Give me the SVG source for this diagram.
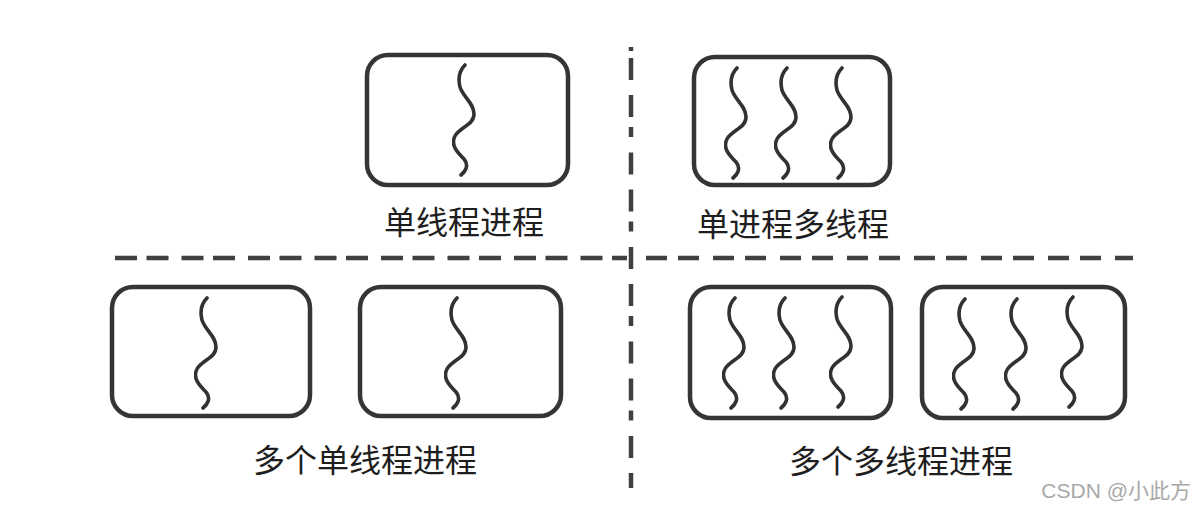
<svg xmlns="http://www.w3.org/2000/svg" width="1196" height="510" viewBox="0 0 1196 510">
  <style>
    .box { fill: #ffffff; stroke: #363636; stroke-width: 4.5; }
    .thread { fill: none; stroke: #303030; stroke-width: 3.6; stroke-linecap: round; stroke-linejoin: round; }
    .hdash { fill: none; stroke: #404040; stroke-width: 4.5; }
    .vdash { fill: none; stroke: #404040; stroke-width: 4.5; stroke-dasharray: 22 15 22 10 10 15.5; }
    .label { font-family: "Noto Sans CJK SC", "Noto Sans", sans-serif; font-size: 32px; fill: #1e1e1e; text-anchor: middle; }
    .credit { font-family: "Liberation Sans", "Noto Sans CJK SC", sans-serif; font-size: 21px; fill: #a8a8a8; text-anchor: end; }
  </style>
  <defs>
    <filter id="soft" x="-5%" y="-5%" width="110%" height="110%">
      <feGaussianBlur stdDeviation="0.7"/>
    </filter>
    <path id="thread" d="M3,0 C-3,6 -4,14 -2,22 C1,32 12,38 12,49 C12,60 -2,62 -7,71 C-12,80 -4,88 2,94 C7,100 4,106 -1,110"/>
  </defs>

  <rect width="1196" height="510" fill="#ffffff"/>

  <g id="connectors" filter="url(#soft)">
    <line class="hdash" x1="115" y1="258" x2="627" y2="258" stroke-dasharray="22 9.5 22 13"/>
    <line class="hdash" x1="646" y1="258" x2="1133" y2="258" stroke-dasharray="21 11 21 14"/>
    <line class="vdash" x1="631" y1="47" x2="631" y2="51"/>
    <line class="vdash" x1="631" y1="58" x2="631" y2="488"/>
  </g>

  <g id="single-thread-process">
    <rect class="box" x="367" y="55" width="201" height="130" rx="21" filter="url(#soft)"/>
    <use class="thread" href="#thread" x="462" y="65" filter="url(#soft)"/>
    <text class="label" x="464" y="234">单线程进程</text>
  </g>

  <g id="single-process-multi-thread">
    <rect class="box" x="694" y="57" width="196" height="128" rx="21" filter="url(#soft)"/>
    <use class="thread" href="#thread" x="734" y="68" filter="url(#soft)"/>
    <use class="thread" href="#thread" x="784" y="68" filter="url(#soft)"/>
    <use class="thread" href="#thread" x="839" y="68" filter="url(#soft)"/>
    <text class="label" x="793" y="236">单进程多线程</text>
  </g>

  <g id="multi-single-thread-processes">
    <rect class="box" x="112" y="287" width="198" height="129" rx="21" filter="url(#soft)"/>
    <use class="thread" href="#thread" x="204" y="298" filter="url(#soft)"/>
    <rect class="box" x="360" y="287" width="201" height="129" rx="21" filter="url(#soft)"/>
    <use class="thread" href="#thread" x="454" y="298" filter="url(#soft)"/>
    <text class="label" x="365" y="472">多个单线程进程</text>
  </g>

  <g id="multi-multi-thread-processes">
    <rect class="box" x="690" y="287" width="201" height="131" rx="21" filter="url(#soft)"/>
    <use class="thread" href="#thread" x="732" y="298" filter="url(#soft)"/>
    <use class="thread" href="#thread" x="782" y="298" filter="url(#soft)"/>
    <use class="thread" href="#thread" x="839" y="297" filter="url(#soft)"/>
    <rect class="box" x="922" y="287" width="203" height="131" rx="21" filter="url(#soft)"/>
    <use class="thread" href="#thread" x="962" y="299" filter="url(#soft)"/>
    <use class="thread" href="#thread" x="1014" y="299" filter="url(#soft)"/>
    <use class="thread" href="#thread" x="1070" y="297" filter="url(#soft)"/>
    <text class="label" x="901" y="473">多个多线程进程</text>
  </g>

  <text class="credit" x="1191" y="498">CSDN @小此方</text>
</svg>
